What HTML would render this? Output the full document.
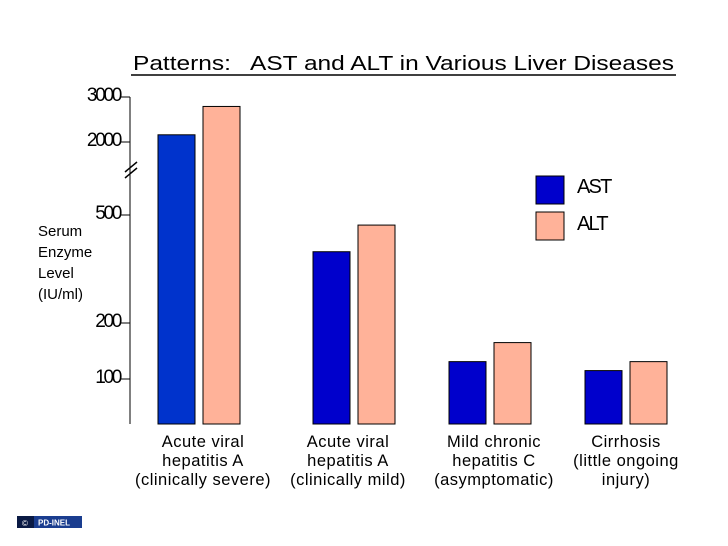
<!DOCTYPE html>
<html><head><meta charset="utf-8"><style>
body{margin:0;background:#fff;}
svg{display:block;font-family:"Liberation Sans",Arial,sans-serif;}
</style></head><body>
<svg id="c" width="728" height="546" viewBox="0 0 728 546">
<text x="133" y="70" font-size="20" textLength="541" lengthAdjust="spacingAndGlyphs" style="white-space:pre" fill="#000">Patterns:   AST and ALT in Various Liver Diseases</text>
<line x1="131" y1="75" x2="676" y2="75" stroke="#000" stroke-width="1.5"/>
<g id="axis"></g>
<g font-size="15" fill="#000">
<text x="38" y="236">Serum</text><text x="38" y="257">Enzyme</text><text x="38" y="278">Level</text><text x="38" y="299">(IU/ml)</text>
</g>
<g id="bars"></g>
<g id="cats" font-size="16.5" letter-spacing="0.5" text-anchor="middle"></g>
<g>
<rect x="536" y="176" width="28" height="28" fill="#0000cc" stroke="#000"/>
<text x="577" y="193" font-size="20" letter-spacing="-1.8">AST</text>
<rect x="536" y="212" width="28" height="28" fill="#ffb299" stroke="#000"/>
<text x="577" y="230" font-size="20" letter-spacing="-1.8">ALT</text>
</g>
<g>
<rect x="17" y="516" width="65" height="12" fill="#1a3d8f"/>
<rect x="17" y="516" width="17" height="12" fill="#0a1a44"/>
<text x="25" y="526" font-size="8" fill="#fff" text-anchor="middle">©</text>
<text x="38" y="525.5" font-size="8" font-weight="bold" fill="#fff">PD-INEL</text>
</g>
</svg>
<script>
const categories=[["Acute viral","hepatitis A","(clinically severe)"],["Acute viral","hepatitis A","(clinically mild)"],["Mild chronic","hepatitis C","(asymptomatic)"],["Cirrhosis","(little ongoing","injury)"]];
const astValues=[2160,398,131,115];
const altValues=[2790,472,165,131];
const tickLabels=[100,200,500,2000,3000];
// broken axis: anchor value -> pixel
const anchorVals=[0,100,200,500,2000,3000];
const anchorPix=[424,379,323,215,142,97];
function y(v){
  for(let i=0;i<anchorVals.length-1;i++){
    if(v<=anchorVals[i+1]){const t=(v-anchorVals[i])/(anchorVals[i+1]-anchorVals[i]);return anchorPix[i]+t*(anchorPix[i+1]-anchorPix[i]);}
  }
  return anchorPix[anchorPix.length-1];
}
const ns="http://www.w3.org/2000/svg";
function mk(tag,attrs,parent){const e=document.createElementNS(ns,tag);for(const k in attrs)e.setAttribute(k,attrs[k]);parent.appendChild(e);return e;}
const ax=document.getElementById('axis');
let l=mk('line',{x1:130,y1:y(3000),x2:130,y2:y(0),stroke:'#000','stroke-width':1},ax);


tickLabels.forEach(v=>{
  const yy=y(v);
  const t=mk('line',{x1:120,y1:yy,x2:130,y2:yy,stroke:'#000'},ax);
  
  
  const tx=mk('text',{x:120,y:yy+4,'font-size':19,'text-anchor':'end','letter-spacing':'-2.3'},ax);
  tx.textContent=v;
  
  
});
const br=mk('g',{},ax);


mk('line',{x1:125,y1:172,x2:137,y2:162,stroke:'#000','stroke-width':1.5},br);
mk('line',{x1:125,y1:178,x2:137,y2:168,stroke:'#000','stroke-width':1.5},br);
const bars=document.getElementById('bars');
const groupX=[158,313,449,585], bw=37, gap=8;
const cats=document.getElementById('cats');
const centers=[203,348,494,626];
categories.forEach((c,i)=>{
  const a=mk('rect',{x:groupX[i],y:y(astValues[i]),width:bw,height:y(0)-y(astValues[i]),fill:i==0?'#0033cc':'#0000cc',stroke:'#000'},bars);
  
  
  const b=mk('rect',{x:groupX[i]+bw+gap,y:y(altValues[i]),width:bw,height:y(0)-y(altValues[i]),fill:'#ffb299',stroke:'#000'},bars);
  
  
  const g=mk('text',{x:centers[i],y:447},cats);
  
  
  c.forEach((line,j)=>{const ts=mk('tspan',{x:centers[i],dy:j?19:0},g);ts.textContent=line;});
});
</script>
</body></html>
